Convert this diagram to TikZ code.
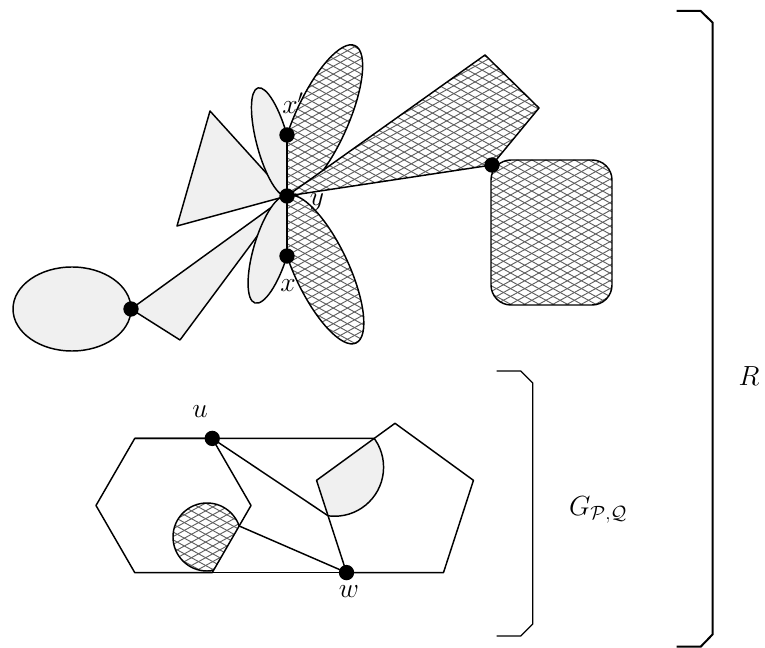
\documentclass[tikz,border=0pt]{standalone}
\usetikzlibrary{calc}
\newcommand\hatcharea[4]{%
  \pgfmathtruncatemacro\hka{floor((#2-0.55*#3)/7.8)-1}%
  \pgfmathtruncatemacro\hkb{ceil((#4-0.55*#1)/7.8)+1}%
  \foreach \k in {\hka,...,\hkb}{\draw[hatchline] (#1,{0.55*#1+\k*7.8}) -- (#3,{0.55*#3+\k*7.8});}%
  \pgfmathtruncatemacro\hkc{floor((#2+0.55*#1)/7.8)-1}%
  \pgfmathtruncatemacro\hkd{ceil((#4+0.55*#3)/7.8)+1}%
  \foreach \k in {\hkc,...,\hkd}{\draw[hatchline] (#1,{-0.55*#1+\k*7.8}) -- (#3,{-0.55*#3+\k*7.8});}%
}
\begin{document}
\begin{tikzpicture}[x=0.75pt,y=-0.75pt,
  outl/.style={line width=1.1pt, line join=round},
  grayfill/.style={fill=black!6},
  hatchline/.style={black!62, line width=0.7pt},
  dot/.style={circle, fill=black, inner sep=0pt, minimum size=11.5pt},
  lab/.style={font=\huge, inner sep=1pt},
  brk/.style={line width=1pt},
  brkR/.style={line width=1.5pt}]
\useasboundingbox (0,0) rectangle (765,648);

% ---------- coordinates (top part) ----------
\coordinate (y) at (287,196);
\coordinate (xp) at (287,135);
\coordinate (x) at (287,256);
\coordinate (ed) at (131,309);
\coordinate (k3) at (180,340);
\coordinate (t1) at (210,111);
\coordinate (t2) at (177,226);
\coordinate (q1) at (485,55);
\coordinate (q2) at (539,108);
\coordinate (q3) at (492,165);

% ellipse and gray kite
\filldraw[outl,grayfill] (72,309) ellipse [x radius=59, y radius=42];
\filldraw[outl,grayfill] (y) -- (ed) -- (k3) -- cycle;
% gray triangle
\filldraw[outl,grayfill] (t1) -- (t2) -- (y) -- cycle;

% gray petals (left of the line)
\begin{scope}
  \clip (0,0) rectangle (287,648);
  \filldraw[outl,grayfill,rotate around={105:(272.5,142)}] (272.5,142) ellipse [x radius=56, y radius=15.8];
  \filldraw[outl,grayfill,rotate around={-106.6:(271,249.5)}] (271,249.5) ellipse [x radius=55.85, y radius=17.2];
\end{scope}

% hatched petals (right of the line)
\begin{scope}
  \clip (287,0) rectangle (765,648);
  \fill[white,rotate around={65.7:(321,120.8)}] (321,120.8) ellipse [x radius=82.5, y radius=26.5];
  \begin{scope}
    \clip[rotate around={65.7:(321,120.8)}] (321,120.8) ellipse [x radius=82.5, y radius=26.5];
    \hatcharea{285}{40}{370}{200}
  \end{scope}
  \draw[outl,rotate around={65.7:(321,120.8)}] (321,120.8) ellipse [x radius=82.5, y radius=26.5];
  \fill[white,rotate around={-64.8:(321.5,269.5)}] (321.5,269.5) ellipse [x radius=81.2, y radius=27];
  \begin{scope}
    \clip[rotate around={-64.8:(321.5,269.5)}] (321.5,269.5) ellipse [x radius=81.2, y radius=27];
    \hatcharea{285}{190}{370}{350}
  \end{scope}
  \draw[outl,rotate around={-64.8:(321.5,269.5)}] (321.5,269.5) ellipse [x radius=81.2, y radius=27];
\end{scope}

% hatched quadrilateral
\fill[white] (y) -- (q1) -- (q2) -- (q3) -- cycle;
\begin{scope}
  \clip (y) -- (q1) -- (q2) -- (q3) -- cycle;
  \hatcharea{285}{50}{545}{200}
\end{scope}
\draw[outl] (y) -- (q1) -- (q2) -- (q3) -- cycle;

% hatched rounded square
\fill[white,rounded corners=15pt] (491,160) rectangle (612,305);
\begin{scope}
  \clip[rounded corners=15pt] (491,160) rectangle (612,305);
  \hatcharea{488}{157}{615}{308}
\end{scope}
\draw[outl,rounded corners=15pt] (491,160) rectangle (612,305);

% vertical line
\draw[outl] (xp) -- (x);

% ---------- coordinates (bottom part) ----------
\coordinate (h1) at (251,505.5);
\coordinate (u) at (212.25,438.4);
\coordinate (h3) at (134.75,438.4);
\coordinate (h4) at (96,505.5);
\coordinate (h5) at (134.75,572.6);
\coordinate (h6) at (212.25,572.6);
\coordinate (pT) at (395,423.3);
\coordinate (pR) at (473.46,480.35);
\coordinate (pBR) at (443.49,572.6);
\coordinate (w) at (346.51,572.6);
\coordinate (pL) at (316.54,480.35);
\coordinate (P1) at (intersection of h3--u and pL--pT);
\coordinate (gc) at ($(pL)!0.23!(pT)$);
\coordinate (g1) at ($(pL)!0.3839!(w)$);
\coordinate (hc) at (207,537);
\coordinate (hc1) at ($(h1)!0.3054!(h6)$);

% gray disk clipped to the pentagon
\begin{scope}
  \clip (pT) -- (pR) -- (pBR) -- (w) -- (pL) -- cycle;
  \filldraw[outl,grayfill] (gc) circle [radius=49];
\end{scope}

% hatched disk clipped to the hexagon
\begin{scope}
  \clip (h1) -- (u) -- (h3) -- (h4) -- (h5) -- (h6) -- cycle;
  \fill[white] (hc) circle [radius=34];
  \begin{scope}
    \clip (hc) circle [radius=34];
    \hatcharea{170}{500}{245}{575}
  \end{scope}
  \draw[outl] (hc) circle [radius=34];
\end{scope}

% outlines
\draw[outl] (h1) -- (u) -- (h3) -- (h4) -- (h5) -- (h6) -- cycle;
\draw[outl] (h3) -- (P1);
\draw[outl] (h5) -- (w);
\draw[outl] (pT) -- (pR) -- (pBR) -- (w) -- (pL) -- cycle;
\draw[outl] (u) -- (g1);
\draw[outl] (hc1) -- (w);

% ---------- brackets ----------
\coordinate (gA) at (496.7,371);
\coordinate (gB) at (520.7,371);
\coordinate (gC) at (532.7,383);
\coordinate (gD) at (532.7,624);
\coordinate (gE) at (520.7,636);
\coordinate (gF) at (496.7,636);
\draw[brk] (gA) -- (gB) -- (gC) -- (gD) -- (gE) -- (gF);
\coordinate (rA) at (676.7,11);
\coordinate (rB) at (700.7,11);
\coordinate (rC) at (712.7,22.7);
\coordinate (rD) at (712.7,634.3);
\coordinate (rE) at (700.7,646.7);
\coordinate (rF) at (676.7,646.7);
\draw[brkR] (rA) -- (rB) -- (rC) -- (rD) -- (rE) -- (rF);

% ---------- dots ----------
\node[dot] (dy) at (y) {};
\node[dot] (dxp) at (xp) {};
\node[dot] (dx) at (x) {};
\node[dot] (de) at (ed) {};
\node[dot] (dq) at (q3) {};
\node[dot] (du) at (u) {};
\node[dot] (dw) at (w) {};

% ---------- labels ----------
\node[lab] (lxp) at (293,103) {$x'$};
\node[lab] (ly) at (317,202) {$y$};
\node[lab] (lx) at (288,286) {$x$};
\node[lab] (lu) at (200,412) {$u$};
\node[lab] (lw) at (349,592) {$w$};
\node[lab] (lG) at (598,510) {$G_{\mathcal{P},\mathcal{Q}}$};
\node[lab] (lR) at (749,376) {$R$};
\end{tikzpicture}
\end{document}
